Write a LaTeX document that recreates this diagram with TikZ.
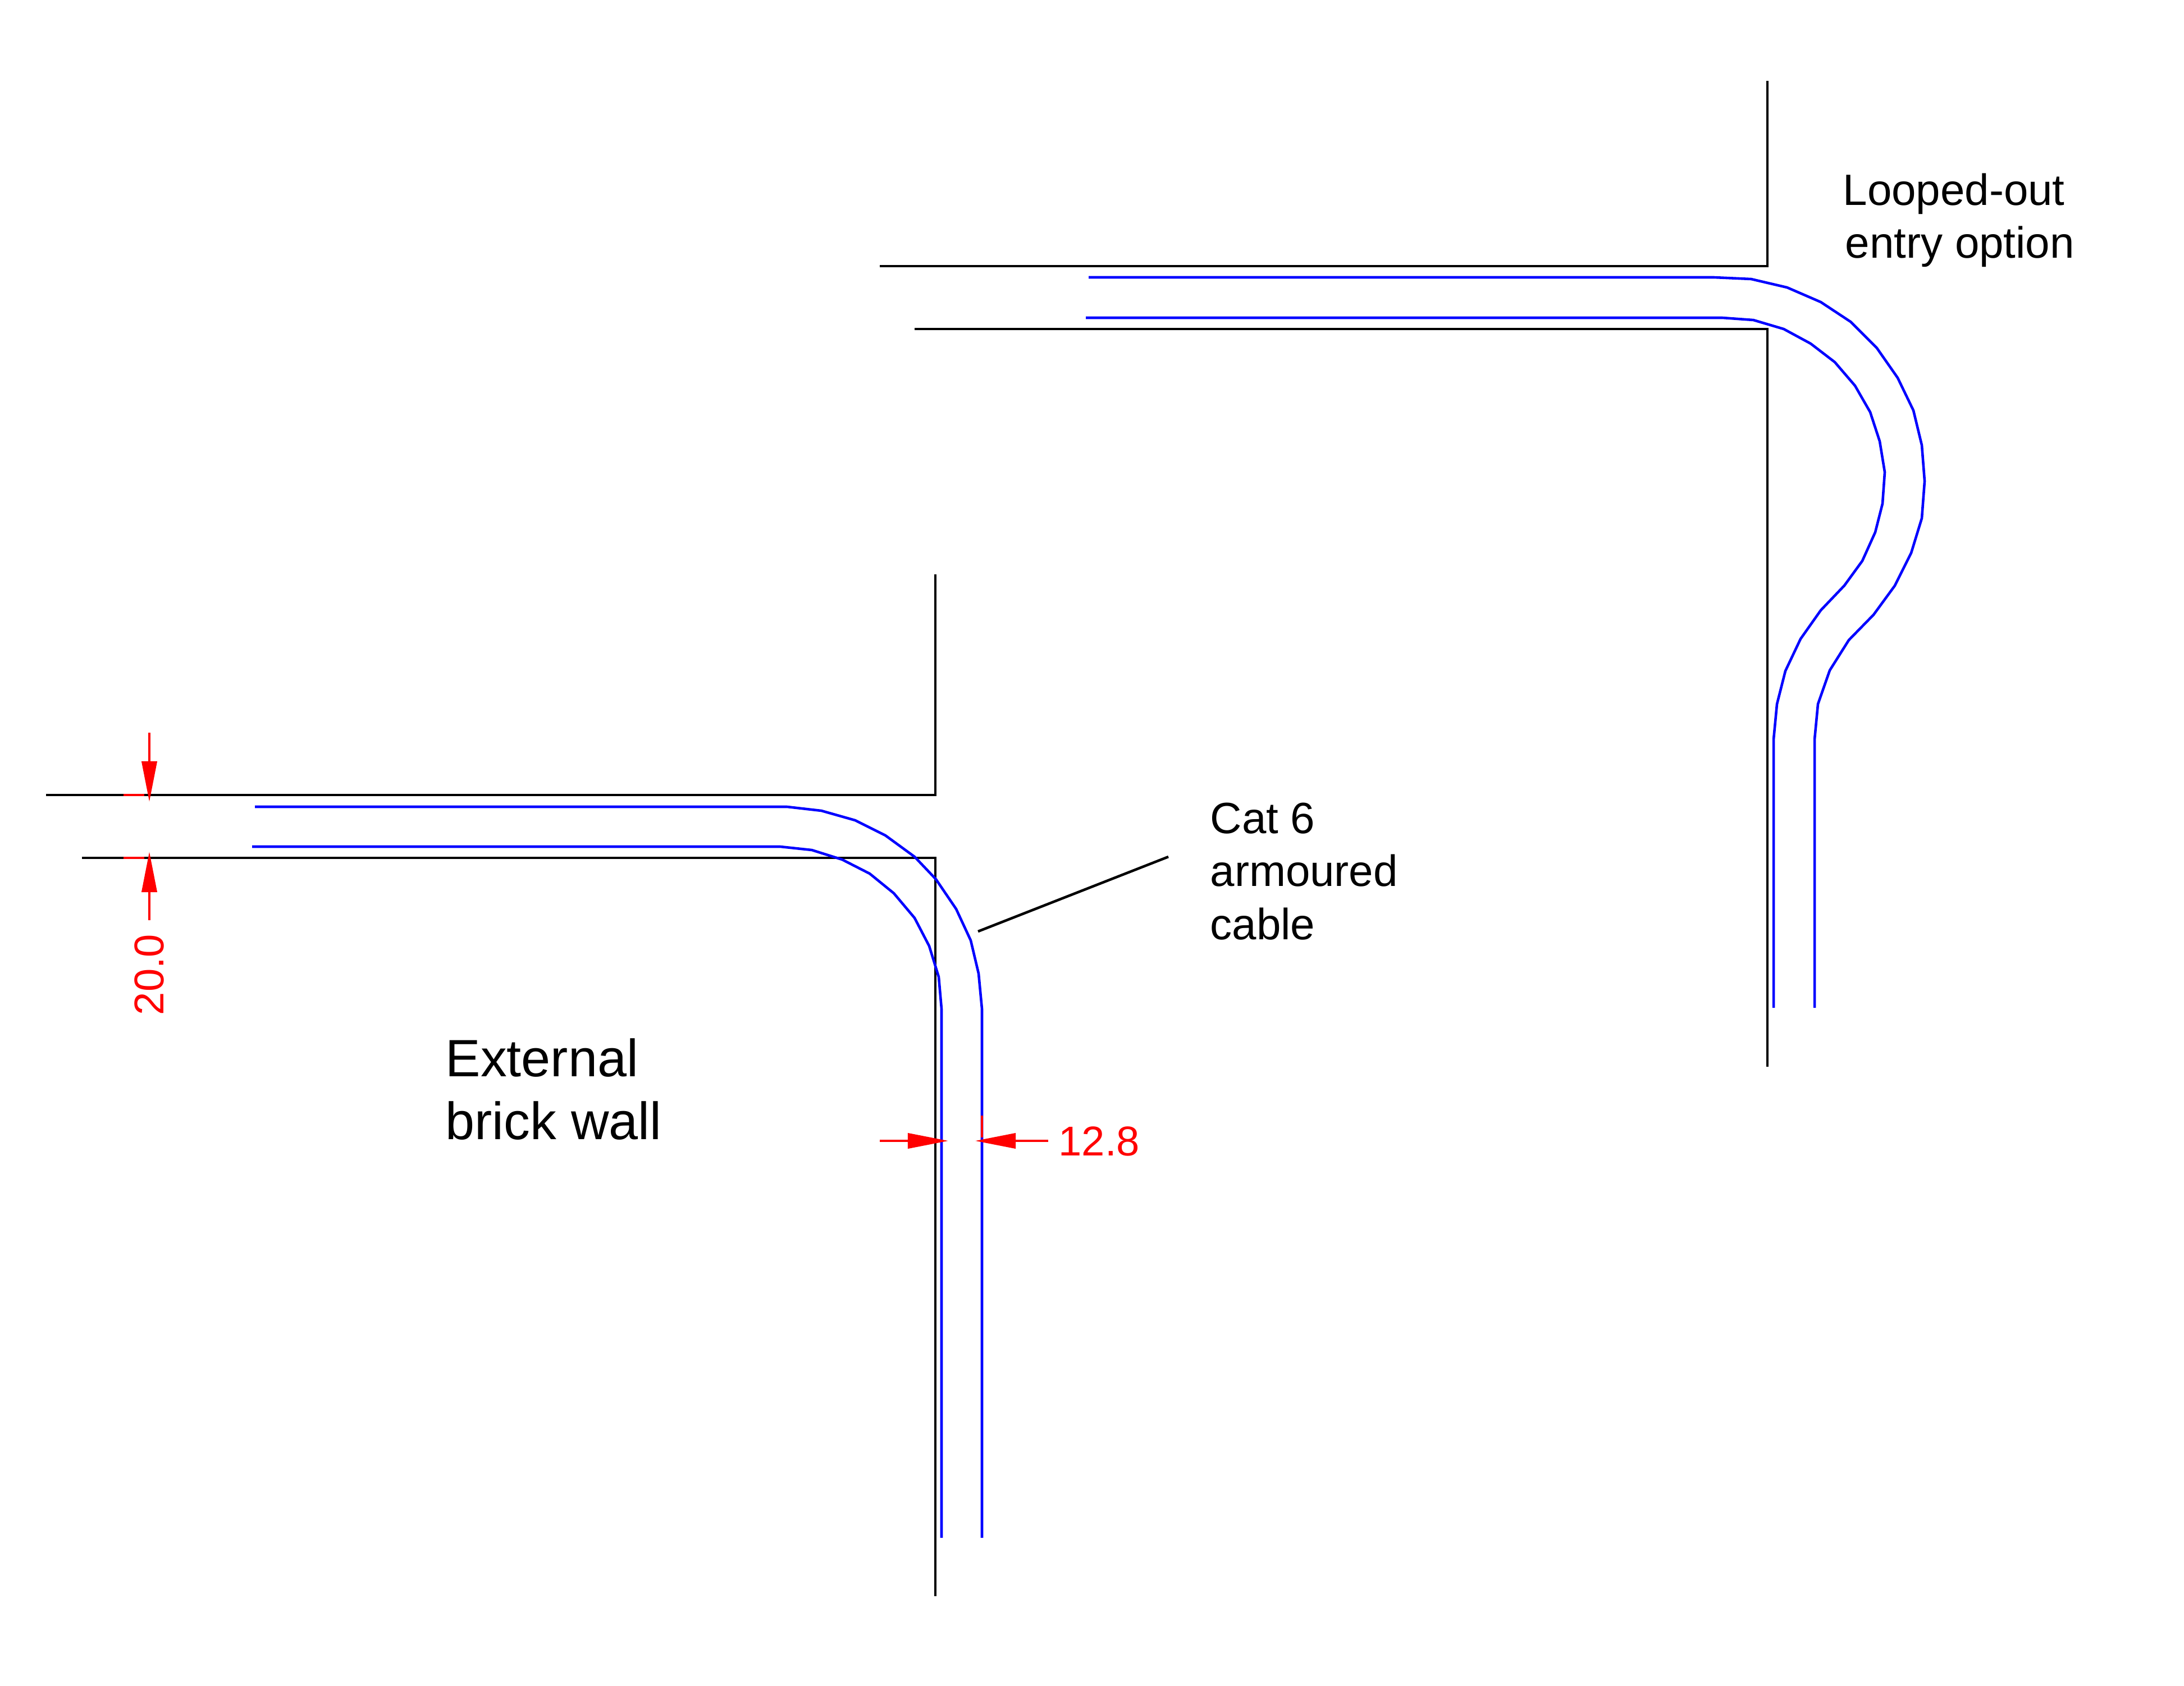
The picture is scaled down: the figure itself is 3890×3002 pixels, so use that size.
\documentclass[tikz,border=0pt]{standalone}
\usepackage{fontspec}
\setmainfont{Liberation Sans}
\usetikzlibrary{arrows.meta}
\definecolor{cableblue}{RGB}{0,0,255}
\definecolor{dimred}{RGB}{255,0,0}
\tikzset{
  wall/.style={draw=black,line width=1.3pt,line join=miter},
  cable/.style={draw=cableblue,line width=1.3pt,line join=round},
  leader/.style={draw=black,line width=1.3pt},
  tick/.style={draw=dimred,line width=1.3pt},
  dimarrow/.style={draw=dimred,fill=dimred,line width=1.1pt,-{Triangle[length=7.2mm,width=2.7mm]}},
  note/.style={font=\fontsize{22.2}{26.8}\selectfont,align=left,anchor=west,inner sep=0pt,text=black},
  bignote/.style={font=\fontsize{26.6}{31.8}\selectfont,align=left,anchor=west,inner sep=0pt,text=black},
  dimtext/.style={font=\fontsize{21.1}{25}\selectfont,text=dimred,inner sep=0pt}
}
\begin{document}
\begin{tikzpicture}[x=0.01cm,y=-0.01cm]
\useasboundingbox[fill=white] (0,0) rectangle (3890,3002);
% lower-left wall
\draw[wall] (82,1416) -- (1666,1416) -- (1666,1023);
\draw[wall] (146,1528) -- (1666,1528) -- (1666,2843);
% lower-left cable
\draw[cable] (454,1437) -- (1402,1437) -- (1463,1444) -- (1523,1461) -- (1577,1488) -- (1629,1526) -- (1667,1566) -- (1703,1619) -- (1729,1675) -- (1743,1734) -- (1749,1797) -- (1749,2739);
\draw[cable] (449,1508) -- (1390,1508) -- (1446,1514) -- (1500,1531) -- (1549,1556) -- (1592,1591) -- (1629,1635) -- (1655,1685) -- (1672,1740) -- (1677,1797) -- (1677,2739);
% upper-right wall
\draw[wall] (1567,474) -- (3148,474) -- (3148,144);
\draw[wall] (1629,586) -- (3148,586) -- (3148,1900);
% upper-right cable
\draw[cable] (1939,494) -- (3053,494) -- (3119,497) -- (3183,512) -- (3243,538) -- (3296,573) -- (3343,620) -- (3380,673) -- (3408,731) -- (3423,793) -- (3428,857) -- (3423,923) -- (3404,985) -- (3375,1043) -- (3337,1095) -- (3293,1140) -- (3259,1194) -- (3238,1254) -- (3232,1317) -- (3232,1795);
\draw[cable] (1934,566) -- (3068,566) -- (3123,570) -- (3177,586) -- (3225,612) -- (3268,645) -- (3304,687) -- (3331,734) -- (3348,786) -- (3357,841) -- (3353,897) -- (3340,948) -- (3317,999) -- (3285,1043) -- (3243,1087) -- (3207,1138) -- (3180,1195) -- (3165,1254) -- (3159,1317) -- (3159,1795);
% leader
\coordinate (leadA) at (1742,1659);
\coordinate (leadB) at (2081,1526);
\draw[leader] (leadA) -- (leadB);
% dimension 20.0
\draw[tick] (220,1416) -- (257,1416);
\draw[tick] (220,1528) -- (257,1528);
\coordinate (d1a) at (266,1305);
\coordinate (d1b) at (266,1428);
\coordinate (d2a) at (266,1639);
\coordinate (d2b) at (266,1517);
\draw[dimarrow] (d1a) -- (d1b);
\draw[dimarrow] (d2a) -- (d2b);
\node[dimtext,rotate=90] (dimA) at (266,1736) {20.0};
% dimension 12.8
\draw[tick] (1749,1987) -- (1749,2026);
\coordinate (d3a) at (1567,2032);
\coordinate (d3b) at (1689,2032);
\coordinate (d4a) at (1867,2032);
\coordinate (d4b) at (1737,2032);
\draw[dimarrow] (d3a) -- (d3b);
\draw[dimarrow] (d4a) -- (d4b);
\node[dimtext,anchor=west] (dimB) at (1885,2033) {12.8};
% labels
\node[note] (cat) at (2155,1552) {Cat 6\\armoured\\cable};
\node[bignote] (ext) at (793,1940) {External\\brick wall};
\node[note] (loop) at (3282,392) {Looped-out\\\hspace*{1.2pt}entry option};
\end{tikzpicture}
\end{document}
